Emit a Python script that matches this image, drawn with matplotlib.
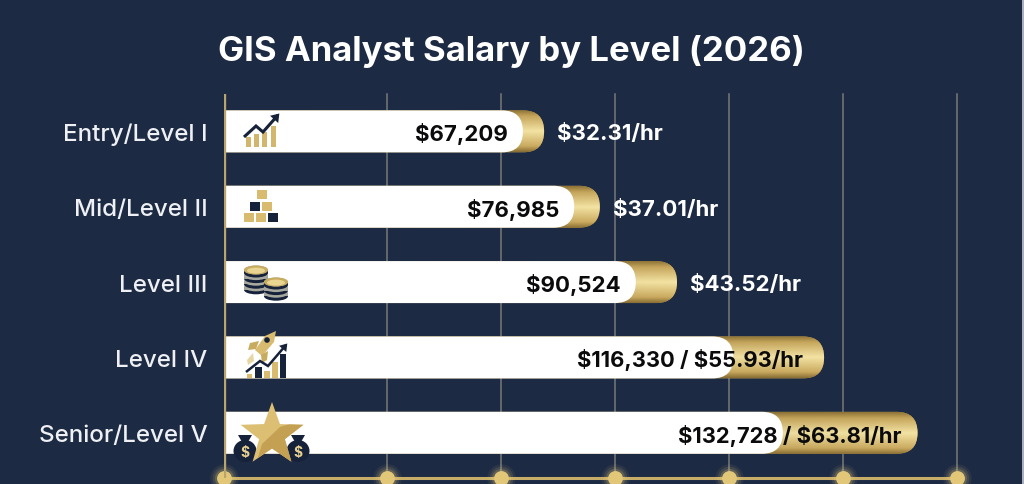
import matplotlib
matplotlib.use("Agg")
import matplotlib.pyplot as plt
import numpy as np
from matplotlib.patches import FancyBboxPatch, Polygon, Rectangle, Ellipse, Circle
from matplotlib.colors import LinearSegmentedColormap

plt.rcParams['font.family'] = ['Inter', 'DejaVu Sans']

levels = ["Entry/Level I", "Mid/Level II", "Level III", "Level IV", "Senior/Level V"]
salary_k = [67.209, 76.985, 90.524, 116.330, 132.728]
white_k = [63.5, 72.5, 83.3, 100.4, 109.1]
salary_labels = [r"\$67,209", r"\$76,985", r"\$90,524"]
hourly_labels = [r"\$32.31/hr", r"\$37.01/hr", r"\$43.52/hr"]
combined_labels = [r"\$116,330 / \$55.93/hr", r"\$132,728 / \$63.81/hr"]
grid_k = [39.65, 59.65, 79.65, 99.65, 119.65, 139.65]

NAVY = "#1c2a43"
DARK = "#16223a"
GOLD = "#d8bb6f"

W, H = 1024, 485
fig = plt.figure(figsize=(W / 100, H / 100), dpi=100, facecolor=NAVY)

ax = fig.add_axes([224 / W, (H - 479) / H, (957 - 224) / W, (479 - 95) / H])
ax.set_facecolor("none")
xlim = (11.05, 139.65)
ylim = (4.60, -0.496)
ax.set_xlim(*xlim)
ax.set_ylim(*ylim)

# grid and axis lines
for g in grid_k:
    ax.axvline(g, color="#77797a", lw=1.1, zorder=1, clip_on=False)
ax.axvline(xlim[0], color="#b9a46c", lw=2.4, zorder=6)
ax.axhline(ylim[0], color="#c8ad68", lw=2.2, zorder=1, clip_on=False)

dots = [xlim[0]] + grid_k
for size, alpha in [(420, 0.07), (290, 0.12), (190, 0.2)]:
    ax.scatter(dots, [ylim[0]] * len(dots), s=size, color="#e8cc7c", alpha=alpha, lw=0, zorder=2, clip_on=False)
ax.scatter(dots, [ylim[0]] * len(dots), s=115, color="#e2c778", lw=0, zorder=3, clip_on=False)

# gold fill: thin dark rims with a bright band through the middle
gold_cmap = LinearSegmentedColormap.from_list(
    "gold", [(0, "#8f7437"), (0.14, "#c6a65c"), (0.5, "#f4e4a4"), (0.86, "#cbab60"), (1, "#8a6f34")])
ramp = np.linspace(0, 1, 128)[:, None]
across = np.linspace(0.0, 1.0, 256)[None, :]
gold_img = gold_cmap(ramp * np.ones((128, 256)))
gold_img[..., :3] *= (0.86 + 0.14 * across)[..., None]

bar_h = 42 / 75.4
rx = 21 / 5.7
aspect = (bar_h / 2) / rx


def pill(x_end, y, **kw):
    start = xlim[0] - 10
    return FancyBboxPatch((start, y - bar_h / 2), x_end - start, bar_h,
                          boxstyle=f"round,pad=0,rounding_size={rx}",
                          mutation_aspect=aspect, lw=0, **kw)


for i, (val, wht) in enumerate(zip(salary_k, white_k)):
    base = pill(val, i, facecolor="#b89a52", zorder=3)
    ax.add_patch(base)
    im = ax.imshow(gold_img, extent=(xlim[0], val, i + bar_h / 2, i - bar_h / 2),
                   aspect="auto", zorder=3.2, interpolation="bilinear")
    im.set_clip_path(base)
    ax.add_patch(pill(wht, i, facecolor="white", zorder=4))

ax.set_xlim(*xlim)
ax.set_ylim(*ylim)

for i, (sal, hr) in enumerate(zip(salary_labels, hourly_labels)):
    ax.annotate(sal, (white_k[i], i), xytext=(-11, 0), textcoords="offset points",
                ha="right", va="center_baseline", fontsize=16, fontweight="bold",
                color="#0b0b0d", zorder=7)
    ax.annotate(hr, (salary_k[i], i), xytext=(9.5, 0), textcoords="offset points",
                ha="left", va="center_baseline", fontsize=16, fontweight="bold",
                color="white", zorder=7)
for i, txt, pad in zip([3, 4], combined_labels, [-15.5, -11.5]):
    ax.annotate(txt, (salary_k[i], i), xytext=(pad, 0), textcoords="offset points",
                ha="right", va="center_baseline", fontsize=15.8, fontweight="bold",
                color="#0b0b0d", zorder=7)

ax.set_yticks(range(len(levels)))
ax.set_yticklabels(levels, fontsize=17.4, fontweight="medium", color="#eef0f3")
ax.set_xticks([])
ax.tick_params(axis="y", length=0, pad=12)
for s in ax.spines.values():
    s.set_visible(False)

fig.text(511 / W, 1 - 52 / H, "GIS Analyst Salary by Level (2026)", ha="center", va="center",
         fontsize=25, fontweight="bold", color="white")

# overlay in pixel space for the small row icons
ic = fig.add_axes([0, 0, 1, 1], facecolor="none")
ic.set_xlim(0, W)
ic.set_ylim(H, 0)
ic.axis("off")
ic.set_zorder(5)


def box(x0, y0, x1, y1, c):
    ic.add_patch(Rectangle((x0, y0), x1 - x0, y1 - y0, facecolor=c, lw=0))


def arrow(pts, tip_len=8, lw=2.2):
    xs, ys = zip(*pts)
    ic.plot(xs, ys, color=DARK, lw=lw, solid_joinstyle="miter", solid_capstyle="butt")
    (x0, y0), (x1, y1) = pts[-2], pts[-1]
    ang = np.arctan2(y1 - y0, x1 - x0)
    head = [(x1 + 2 * np.cos(ang), y1 + 2 * np.sin(ang))]
    for d in (2.5, -2.5):
        head.append((x1 - tip_len * np.cos(ang + d * 0.3), y1 - tip_len * np.sin(ang + d * 0.3)))
    ic.add_patch(Polygon(head, facecolor=DARK, lw=0))


# rising chart
for x0, x1, top in [(246, 251, 138), (253.5, 258.5, 135), (262, 267, 133), (271, 276, 127)]:
    box(x0, top, x1, 148, "#d3b66d")
arrow([(244, 138), (256, 127), (263, 133), (278, 116)])

# stacked blocks
for x0, y0, c in [(257, 191, GOLD), (250, 203, DARK), (262, 203, GOLD),
                  (244, 214, GOLD), (256, 214, GOLD), (268, 214, DARK)]:
    box(x0, y0, x0 + 10, y0 + 9, c)


# coin stacks
def coins(cx, top, n):
    for k in range(n - 1, -1, -1):
        y = top + k * 5.6
        ic.add_patch(Ellipse((cx, y + 3), 24, 9, facecolor=DARK, lw=0))
        ic.add_patch(Rectangle((cx - 12, y), 24, 3, facecolor="#9c9f9a" if k else DARK, lw=0))
        ic.add_patch(Ellipse((cx, y), 24, 9, facecolor="#a7a89e", lw=0))
    ic.add_patch(Ellipse((cx, top), 24, 9, facecolor="#c7ab5f", lw=0))
    ic.add_patch(Ellipse((cx, top + 0.6), 18, 6, facecolor="#e8d592", lw=0))


coins(256, 271, 4)
coins(276, 283, 3)

# rocket over a chart
ic.add_patch(Polygon([(276, 332), (274, 343), (262, 357), (255, 351), (265, 337)], facecolor=GOLD, lw=0))
ic.add_patch(Polygon([(259, 342), (250, 344), (248, 351), (256, 350)], facecolor="#c7ab5f", lw=0))
ic.add_patch(Polygon([(268, 352), (267, 361), (262, 364), (261, 356)], facecolor="#c7ab5f", lw=0))
ic.add_patch(Polygon([(253, 354), (247, 361), (248, 366), (254, 362)], facecolor="#e6d6a4", lw=0))
ic.add_patch(Circle((267, 341), 2.8, facecolor=DARK, lw=0))
for x0, x1, top, c in [(247, 252, 375, GOLD), (255, 262, 368, DARK), (263.5, 270, 372, GOLD),
                       (272, 278, 363, GOLD), (280, 286, 355, DARK)]:
    box(x0, top, x1, 379, c)
arrow([(246, 373), (260, 362), (268, 367), (286, 346)], tip_len=7, lw=1.8)


# star flanked by money bags
def money_bag(cx, cy):
    ic.add_patch(Ellipse((cx, cy + 2), 23, 22, facecolor=DARK, lw=0))
    ic.add_patch(Polygon([(cx - 7, cy - 14), (cx + 7, cy - 14), (cx + 3, cy - 7), (cx - 3, cy - 7)],
                         facecolor=DARK, lw=0))
    ic.text(cx, cy + 3, r"\$", color="#e6cf90", fontsize=10, fontweight="bold", ha="center", va="center")


money_bag(245, 450)
money_bag(298, 450)

angles = np.radians(np.arange(0, 360, 36) - 90)
radii = [33, 13.5] * 5
star_pts = [(272 + r * np.cos(a), 436 + r * np.sin(a)) for r, a in zip(radii, angles)]
star = Polygon(star_pts, facecolor="#dcbf73", lw=0)
ic.add_patch(star)
shade = Polygon([(255, 468), (262, 445), (280, 428), (306, 420), (306, 468)], facecolor="#c4a053", lw=0)
ic.add_patch(shade)
shade.set_clip_path(star)

# thin bright strip along the right image edge
box(1022, 0, W, H, "#aab0ba")

fig.savefig("out.png", dpi=100, facecolor=NAVY)
